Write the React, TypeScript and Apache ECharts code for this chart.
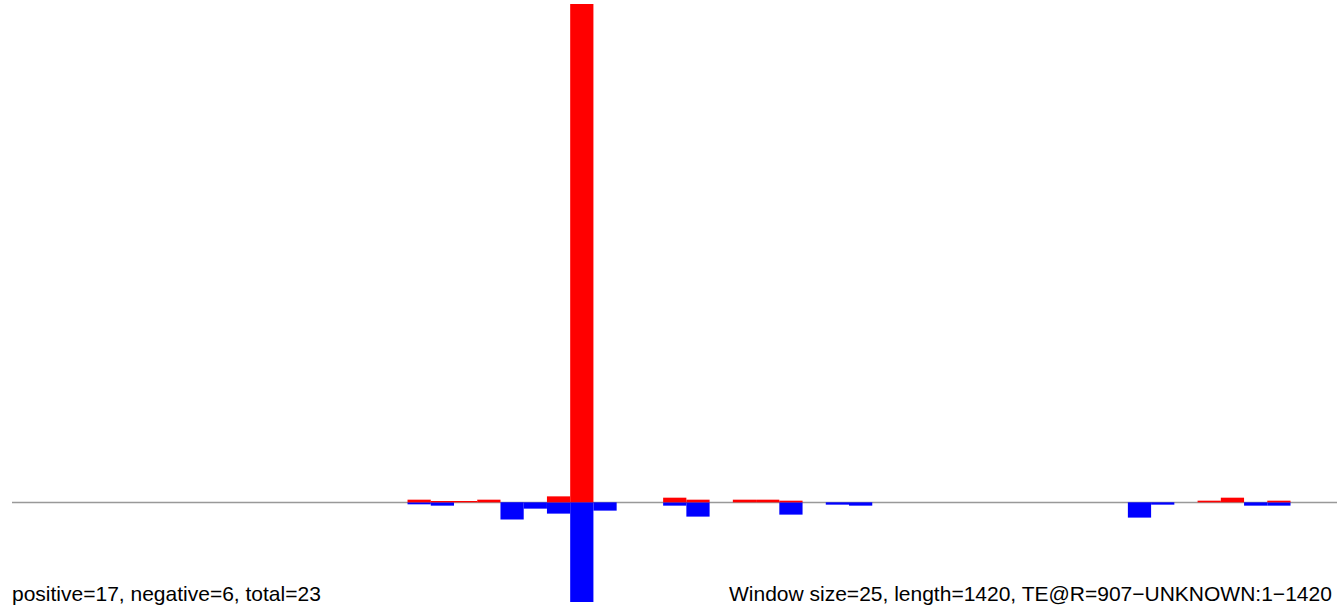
import React, { useEffect, useRef } from "react";
import * as echarts from "echarts";

const binStarts = [
  1, 26, 51, 76, 101, 126, 151, 176, 201, 226, 251, 276, 301, 326, 351, 376, 401, 426, 451, 476,
  501, 526, 551, 576, 601, 626, 651, 676, 701, 726, 751, 776, 801, 826, 851, 876, 901, 926, 951,
  976, 1001, 1026, 1051, 1076, 1101, 1126, 1151, 1176, 1201, 1226, 1251, 1276, 1301, 1326, 1351,
  1376, 1401,
];

const positiveValues = [
  0, 0, 0, 0, 0, 0, 0, 0, 0, 0, 0, 0, 0, 0, 0, 0, 0,
  0.08, 0.04, 0.04, 0.08, 0, 0, 0.18, 15, 0, 0, 0, 0.14, 0.08, 0, 0.08, 0.08, 0.05,
  0, 0, 0, 0, 0, 0, 0, 0, 0, 0, 0, 0, 0, 0, 0, 0, 0,
  0.05, 0.14, 0, 0.05, 0, 0,
];

const negativeValues = [
  0, 0, 0, 0, 0, 0, 0, 0, 0, 0, 0, 0, 0, 0, 0, 0, 0,
  -0.06, -0.1, 0, 0, -0.52, -0.19, -0.34, -3, -0.25, 0, 0, -0.1, -0.43, 0, 0, 0, -0.37,
  0, -0.07, -0.1,
  0, 0, 0, 0, 0, 0, 0, 0, 0, 0, 0,
  -0.46, -0.07, 0, 0, 0, -0.1, -0.1, 0, 0,
];

const leftLabel = "positive=17, negative=6, total=23";
const rightLabel = "Window size=25, length=1420, TE@R=907\u2212UNKNOWN:1\u22121420";

export default function App() {
  const ref = useRef<HTMLDivElement>(null);
  useEffect(() => {
    if (!ref.current) return;
    const chart = echarts.init(ref.current, undefined, { renderer: "svg" });
    const binW = 23.3;
    chart.setOption({
      animation: false,
      backgroundColor: "#ffffff",
      grid: { left: 12.5, top: 4, width: binStarts.length * binW, height: 598 },
      xAxis: {
        type: "category",
        data: binStarts.map(String),
        axisLine: { show: false },
        axisTick: { show: false },
        axisLabel: { show: false },
        splitLine: { show: false },
      },
      yAxis: {
        type: "value",
        min: -3,
        max: 15,
        show: false,
        splitLine: { show: false },
      },
      graphic: [
        {
          type: "line",
          shape: { x1: 12, y1: 502.5, x2: 1337, y2: 502.5 },
          style: { stroke: "#999999", lineWidth: 1.5 },
          z: 0,
        },
        {
          type: "text",
          x: 12,
          y: 583,
          style: {
            text: leftLabel,
            font: '21px "Liberation Sans", Arial, sans-serif',
            fill: "#000000",
          },
        },
        {
          type: "text",
          x: 729,
          y: 583,
          style: {
            text: rightLabel,
            font: '21px "Liberation Sans", Arial, sans-serif',
            fill: "#000000",
          },
        },
      ],
      series: [
        {
          type: "bar",
          stack: "s",
          data: negativeValues,
          barWidth: "100%",
          barCategoryGap: "0%",
          itemStyle: { color: "#0000ff" },
          z: 2,
        },
        {
          type: "bar",
          stack: "s",
          data: positiveValues,
          barWidth: "100%",
          barCategoryGap: "0%",
          itemStyle: { color: "#ff0000" },
          z: 2,
        },
      ],
    });
    return () => chart.dispose();
  }, []);
  return (
    <div
      ref={ref}
      style={{ position: "fixed", left: 0, top: 0, width: 1337, height: 606 }}
    />
  );
}
